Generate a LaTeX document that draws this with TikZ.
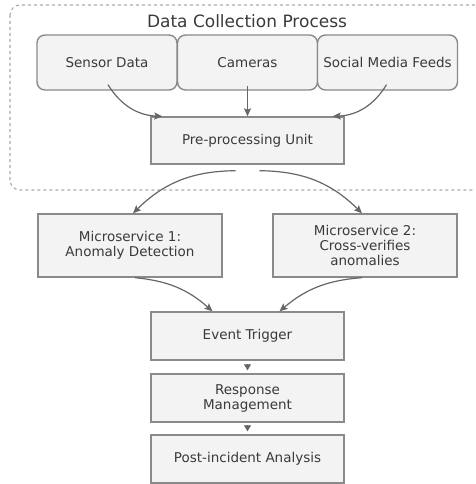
\documentclass[tikz,border=0pt]{standalone}
\usepackage{fontspec}
\setmainfont{DejaVu Sans}
\usepackage{xcolor}
\usetikzlibrary{arrows.meta}
\definecolor{boxfill}{HTML}{F3F3F3}
\definecolor{boxline}{HTML}{8A8A8A}
\definecolor{textgray}{HTML}{3A3A3A}
\definecolor{arrowgray}{HTML}{666666}
\definecolor{clustergray}{HTML}{ABABAB}

\begin{document}
\begin{tikzpicture}[x=1pt, y=-1pt,
		source/.style={draw=boxline, fill=boxfill, line width=1.4pt, rounded corners=8pt,
			minimum width=140pt, minimum height=55pt, inner sep=0pt, text=textgray,
			font=\fontsize{13.5}{15}\selectfont},
		stage/.style={draw=boxline, fill=boxfill, line width=1.4pt,
			minimum width=193pt, minimum height=48pt, inner sep=0pt, align=center, text=textgray,
			font=\fontsize{13.5}{15}\selectfont},
		service/.style={stage, minimum width=184pt, minimum height=63pt},
		flow/.style={draw=arrowgray, line width=1.2pt,
			-{Stealth[length=8pt, width=7pt, inset=1.5pt]}},
		shortflow/.style={draw=arrowgray, line width=0.6pt,
			-{Stealth[length=6pt, width=7pt, inset=0pt]}}]
		\useasboundingbox (0,0) rectangle (475,484);
		\clip (0,0) rectangle (475,484);

		%% Data collection cluster
		\draw[clustergray, line width=1.1pt, dash pattern=on 3pt off 3pt, rounded corners=10pt]
			(10,5) rectangle (495,190);
		\node[text=textgray, font=\fontsize{17}{20}\selectfont] (title) at (247,21) {Data Collection Process};

		%% Sources
		\node[source] (sensor) at (107,62.5) {Sensor Data};
		\node[source] (cameras) at (247.5,62.5) {Cameras};
		\node[source] (social) at (387.5,62.5) {Social Media Feeds};
		\node[stage, minimum height=47pt] (preproc) at (247.5,140.5) {Pre-processing Unit};

		%% Microservices
		\node[service] (ms1) at (130,245.5) {Microservice 1:\\Anomaly Detection};
		\node[service] (ms2) at (365,245.5) {Microservice 2:\\Cross-verifies\\anomalies};

		%% Response chain
		\node[stage] (trigger) at (247.5,336) {Event Trigger};
		\node[stage] (response) at (247.5,398) {Response\\Management};
		\node[stage] (post) at (247.5,459) {Post-incident Analysis};

		%% Edges
		\draw[flow] ([xshift=1pt, yshift=6pt]sensor.south) to[bend right=28] ([xshift=12pt]preproc.north west);
		\draw[flow] ([yshift=5pt]cameras.south) -- (preproc.north);
		\draw[flow] ([xshift=-1pt, yshift=6pt]social.south) to[bend left=28] ([xshift=-12pt]preproc.north east);

		\draw[flow] ([xshift=-12pt, yshift=-6pt]preproc.south) to[bend right=22] ([xshift=3pt]ms1.north);
		\draw[flow] ([xshift=12pt, yshift=-6pt]preproc.south) to[bend left=22] ([xshift=-3pt]ms2.north);

		\draw[flow] ([xshift=5pt]ms1.south) to[bend left=18] ([xshift=-35pt]trigger.north);
		\draw[flow] ([xshift=-3pt]ms2.south) to[bend right=18] ([xshift=32pt]trigger.north);

		\draw[shortflow] ([yshift=-5pt]trigger.south) -- ([yshift=3pt]response.north);
		\draw[shortflow] ([yshift=-5pt]response.south) -- ([yshift=3pt]post.north);
	\end{tikzpicture}
\end{document}
